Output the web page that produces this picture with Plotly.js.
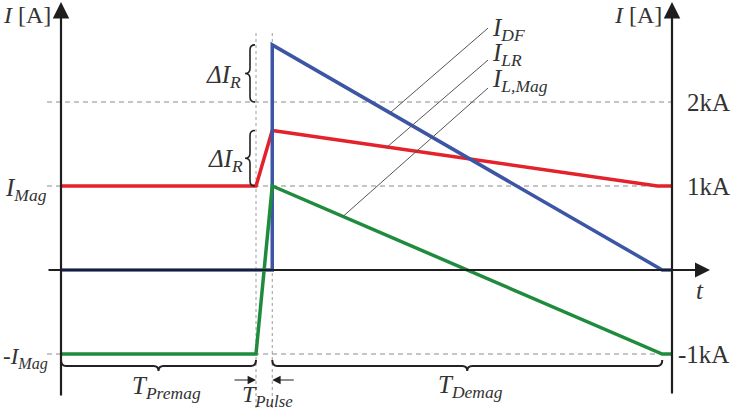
<!DOCTYPE html>
<html>
<head>
<meta charset="utf-8">
<script src="https://cdn.plot.ly/plotly-3.0.1.min.js"></script>
<style>html,body{margin:0;padding:0;background:#fff;}#chart{width:732px;height:411px;}</style>
</head>
<body>
<div id="chart"></div>
<script>
// ---- data (time in arbitrary units, current in kA) ----
const T_PREMAG = 12;       // end of pre-magnetisation
const T_PULSE_END = 13;    // end of pulse
const T_DEMAG_END = 37;    // end of demagnetisation
const T_AXIS = 37.6;       // right current axis

const tRed   = [0, 12, 13, 36.7, 37.6];
const iLR    = [1, 1, 1.66, 1, 1];
const tBlue  = [0, 13, 13, 37, 37.6];
const iDF    = [0, 0, 2.68, 0, 0];
const tGreen = [0, 12, 13, 37, 37.6];
const iLMag  = [-1, -1, 1, -1, -1];

const gridLevels = [2, 1, -1];
const gridLabels = ['2kA', '1kA', '-1kA'];

// ---- scale (pixels per unit) for decoration sizes ----
const SX = 16.25, SY = 84, OX = 61, OY = 270;
const W = 732, H = 411;
const px = p => p / SX;  // pixel length -> time units
const py = p => p / SY;  // pixel length -> kA

function interp(ts, vs, t) {
  for (let k = 0; k < ts.length - 1; k++) {
    if (t >= ts[k] && t <= ts[k + 1] && ts[k + 1] > ts[k]) {
      return vs[k] + (vs[k + 1] - vs[k]) * (t - ts[k]) / (ts[k + 1] - ts[k]);
    }
  }
  return vs[vs.length - 1];
}

const FONT = 'Liberation Serif, Times New Roman, serif';
const TXT = '#333';

const traces = [
  {x: tRed, y: iLR, mode: 'lines', line: {color: '#e3222c', width: 3.5}, hoverinfo: 'skip'},
  {x: tBlue, y: iDF, mode: 'lines', line: {color: '#3c55a5', width: 3.5}, hoverinfo: 'skip'},
  {x: tGreen, y: iLMag, mode: 'lines', line: {color: '#1f8b3d', width: 3.5}, hoverinfo: 'skip'}
];

const shapes = [];
// dashed horizontal grid
gridLevels.forEach(v => shapes.push({type: 'line', xref: 'x', yref: 'y', x0: -px(14), x1: T_AXIS, y0: v, y1: v,
  line: {color: '#8a8a8a', width: 1, dash: '5px,4px'}, layer: 'below'}));
// dashed vertical markers
[T_PREMAG, T_PULSE_END].forEach(t => shapes.push({type: 'line', xref: 'x', yref: 'y', x0: t, x1: t,
  y0: py(OY - 33), y1: -py(H - OY), line: {color: '#9a9a9a', width: 1, dash: '3px,3px'}, layer: 'below'}));

// vertical brace (cusp pointing left)
function vBrace(xEnd, y0, y1) {
  const xs = xEnd - px(5), xc = xEnd - px(10), ym = (y0 + y1) / 2, r = py(5);
  return `M${xEnd},${y1} Q${xs},${y1} ${xs},${y1 - r} L${xs},${ym + r} Q${xs},${ym} ${xc},${ym} ` +
         `Q${xs},${ym} ${xs},${ym - r} L${xs},${y0 + r} Q${xs},${y0} ${xEnd},${y0}`;
}
// horizontal brace (ends curl up, cusp down)
function hBrace(x0, x1, ys) {
  const ye = ys + py(6), yc = ys - py(5), xm = (x0 + x1) / 2, r = px(5);
  return `M${x0},${ye} Q${x0},${ys} ${x0 + r},${ys} L${xm - r},${ys} Q${xm},${ys} ${xm},${yc} ` +
         `Q${xm},${ys} ${xm + r},${ys} L${x1 - r},${ys} Q${x1},${ys} ${x1},${ye}`;
}
const braceLine = {color: '#222', width: 1.6};
const peakDF = Math.max(...iDF), peakLR = Math.max(...iLR);
shapes.push({type: 'path', xref: 'x', yref: 'y', path: vBrace(T_PREMAG - px(1), gridLevels[0], peakDF), line: braceLine});
shapes.push({type: 'path', xref: 'x', yref: 'y', path: vBrace(T_PREMAG - px(1), gridLevels[1], peakLR), line: braceLine});
const yBr = -1 - py(12);
shapes.push({type: 'path', xref: 'x', yref: 'y', path: hBrace(0, T_PREMAG, yBr), line: {color: '#222', width: 2}});
shapes.push({type: 'path', xref: 'x', yref: 'y', path: hBrace(T_PULSE_END, T_DEMAG_END, yBr), line: {color: '#222', width: 2}});

// leader lines
const labX = 26.28;
const leaders = [
  {t: 20.25, ts: tBlue, vs: iDF, ly: 2.88},
  {t: 20.06, ts: tRed, vs: iLR, ly: 2.5},
  {t: 17.35, ts: tGreen, vs: iLMag, ly: 2.167}
];
leaders.forEach(l => shapes.push({type: 'line', xref: 'x', yref: 'y', x0: l.t, y0: interp(l.ts, l.vs, l.t),
  x1: labX, y1: l.ly, line: {color: '#555', width: 1}}));

// axes as arrows
function arrow(xh, yh, xt, yt, w, s) {
  return {x: xh, y: yh, ax: xt, ay: yt, xref: 'x', yref: 'y', axref: 'x', ayref: 'y', text: '',
    showarrow: true, arrowhead: 2, arrowsize: s, arrowwidth: w, arrowcolor: '#1e1e1e', standoff: 0, startstandoff: 0};
}
function label(x, y, text, xanchor, yanchor, size) {
  return {x: x, y: y, xref: 'x', yref: 'y', text: text, showarrow: false,
    xanchor: xanchor || 'center', yanchor: yanchor || 'middle', font: {family: FONT, size: size || 25, color: TXT}};
}
const ann = [
  arrow(0, py(OY - 2), 0, -py(397 - OY), 2.2, 1.5),
  arrow(T_AXIS, py(OY - 2), T_AXIS, -py(395 - OY), 2.2, 1.5),
  arrow(px(710 - OX), 0, -px(14), 0, 2, 1.5),
  arrow(T_PREMAG, -1 - py(26), T_PREMAG - px(23), -1 - py(26), 1.2, 1.4),
  arrow(T_PULSE_END, -1 - py(26), T_PULSE_END + px(23), -1 - py(26), 1.2, 1.4),
  label(-2.09, 3.04, '<i>I</i> [A]', 'center', 'middle', 24),
  label(35.5, 3.04, '<i>I</i> [A]', 'center', 'middle', 24),
  label(38.4, gridLevels[0], gridLabels[0], 'left'),
  label(38.4, gridLevels[1], gridLabels[1], 'left'),
  label((W - OX) / SX - px(1), gridLevels[2], gridLabels[2], 'right'),
  label(39.3, -0.24, '<i>t</i>'),
  label(-0.75, 0.96, '<i>I</i><sub><i>Mag</i></sub>', 'right'),
  label(-0.65, -1.05, '-<i>I</i><sub><i>Mag</i></sub>', 'right', 'middle', 23),
  label(9.97, 2.3, '<i>ΔI</i><sub><i>R</i></sub>'),
  label(10.1, 1.3, '<i>ΔI</i><sub><i>R</i></sub>'),
  label(26.4, 2.86, '<i>I</i><sub><i>DF</i></sub>', 'left'),
  label(26.4, 2.56, '<i>I</i><sub><i>LR</i></sub>', 'left'),
  label(26.4, 2.26, '<i>I</i><sub><i>L,Mag</i></sub>', 'left'),
  label(6.52, -1.40, '<i>T</i><sub><i>Premag</i></sub>'),
  label(12.68, -1.50, '<i>T</i><sub><i>Pulse</i></sub>', 'center', 'middle', 24),
  label(25.17, -1.39, '<i>T</i><sub><i>Demag</i></sub>')
];

const layout = {
  width: W, height: H,
  margin: {l: 0, r: 0, t: 0, b: 0},
  paper_bgcolor: '#fff', plot_bgcolor: '#fff',
  showlegend: false,
  xaxis: {range: [-OX / SX, (W - OX) / SX], visible: false, fixedrange: true},
  yaxis: {range: [-(H - OY) / SY, OY / SY], visible: false, fixedrange: true},
  shapes: shapes,
  annotations: ann
};
Plotly.newPlot('chart', traces, layout, {displayModeBar: false, staticPlot: true});
</script>
</body>
</html>
